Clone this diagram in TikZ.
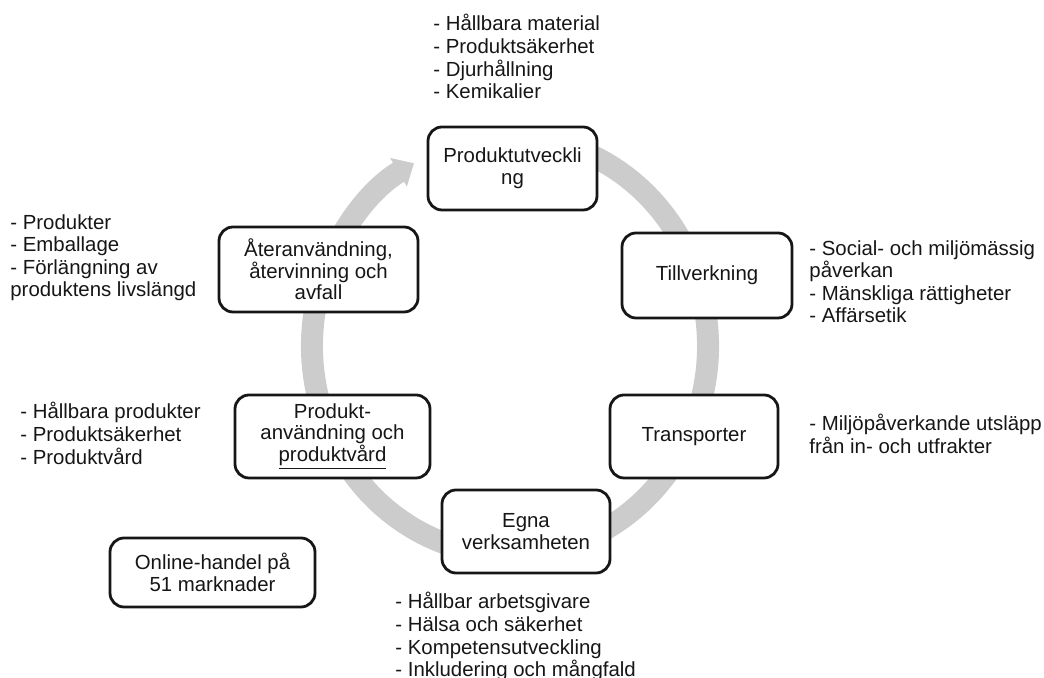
\documentclass[tikz,border=0pt]{standalone}
\usepackage{fontspec}
\setmainfont{Liberation Sans}
\usepackage{xcolor}
\usepackage{tikz}
\usetikzlibrary{arrows.meta,positioning}
\definecolor{hmink}{RGB}{22,22,22}
\definecolor{hmgray}{RGB}{204,204,204}
\tikzset{
  stage/.style={rectangle, rounded corners=7pt, draw=hmink, line width=1.4pt, fill=white, align=center, inner sep=2pt, text=hmink, font=\fontsize{10.2}{10.8}\selectfont},
  points/.style={anchor=north west, inner sep=0pt, align=left, text=hmink, font=\fontsize{10.2}{11.3}\selectfont},
  ring/.style={draw=hmgray, line width=11pt, -{Triangle[width=16pt,length=9pt]}}
}

\begin{document}
\begin{tikzpicture}[x=0.5pt,y=0.5pt]
\useasboundingbox (0,0) rectangle (1044,678);
\coordinate (ringc) at (510,332);
\draw[ring] (ringc) ++(70:99pt and 104.5pt) arc[start angle=70, end angle=-241, x radius=99pt, y radius=104.5pt];
\node[stage, minimum width=84.5pt, minimum height=41.5pt] (dev) at (512.5,509.5) {Produktutveckli\\ng};
\node[stage, minimum width=85pt, minimum height=42.5pt] (manuf) at (707,402.5) {Tillverkning};
\node[stage, minimum width=84pt, minimum height=41.5pt] (transp) at (694,241.5) {Transporter};
\node[stage, minimum width=84pt, minimum height=41.5pt] (ownops) at (526,146.5) {Egna\\verksamheten};
\node[stage, minimum width=97.5pt, minimum height=41.5pt] (usecare) at (332.5,241.5) {Produkt-\\användning och\\\underline{produktvård}};
\node[stage, minimum width=99.5pt, minimum height=42.5pt] (reuse) at (318.5,408.5) {Återanvändning,\\återvinning och\\avfall};
\node[stage, minimum width=102.5pt, minimum height=34.5pt] (online) at (212.5,105.5) {Online-handel på\\51 marknader};
\node[points] (devpts) at (433,664) {- Hållbara material\\- Produktsäkerhet\\- Djurhållning\\- Kemikalier};
\node[points] (reusepts) at (10,464) {- Produkter\\- Emballage\\- Förlängning av\\produktens livslängd};
\node[points] (manufpts) at (809,438) {- Social- och miljömässig\\påverkan\\- Mänskliga rättigheter\\- Affärsetik};
\node[points] (usepts) at (20,276) {- Hållbara produkter\\- Produktsäkerhet\\- Produktvård};
\node[points] (transppts) at (809,264) {- Miljöpåverkande utsläpp\\från in- och utfrakter};
\node[points] (ownpts) at (395,86) {- Hållbar arbetsgivare\\- Hälsa och säkerhet\\- Kompetensutveckling\\- Inkludering och mångfald};
\end{tikzpicture}
\end{document}
